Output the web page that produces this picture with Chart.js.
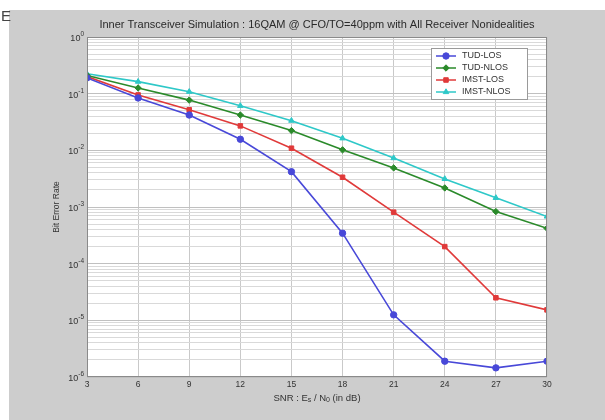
<!DOCTYPE html>
<html>
<head>
<meta charset="utf-8">
<script src="https://cdn.jsdelivr.net/npm/chart.js@4"></script>
<style>
  html, body { margin: 0; padding: 0; background: #fff; }
  #wrap { width: 605px; height: 420px; }
</style>
</head>
<body>
<div id="wrap"><canvas id="c" width="605" height="420"></canvas></div>
<script>
// SNR axis (dB)
const snr = [3, 6, 9, 12, 15, 18, 21, 24, 27, 30];
// bit error rate per channel model
const tudLos   = [0.19, 0.084, 0.042, 0.0157, 0.0042, 3.45e-4, 1.25e-5, 1.9e-6, 1.45e-6, 1.9e-6];
const tudNlos  = [0.21, 0.126, 0.077, 0.042, 0.0223, 0.0102, 0.0049, 0.00217, 8.3e-4, 4.2e-4];
const imstLos  = [0.20, 0.095, 0.052, 0.027, 0.0109, 0.00335, 8.1e-4, 2.0e-4, 2.5e-5, 1.53e-5];
const imstNlos = [0.225, 0.163, 0.108, 0.061, 0.0334, 0.0163, 0.0073, 0.00313, 0.00145, 6.8e-4];
const seriesNames = ["TUD-LOS", "TUD-NLOS", "IMST-LOS", "IMST-NLOS"];
const decades = [-6, -5, -4, -3, -2, -1, 0];

const FONT = "Arial, 'Liberation Sans', sans-serif";

const colors = ["#4848d8", "#2a8a2a", "#e03a3a", "#2ec8c8"];
const shapes = ["circle", "rectRot", "rect", "triangle"];

function pts(arr) { return snr.map((x, i) => ({ x, y: arr[i] })); }

const bgPlugin = {
  id: "figBg",
  beforeDraw(chart) {
    const { ctx, width, height, chartArea } = chart;
    ctx.save();
    ctx.fillStyle = "#ffffff";
    ctx.fillRect(0, 0, width, height);
    ctx.fillStyle = "#cdcdcd";
    ctx.fillRect(9, 10, width - 9, height - 10);
    ctx.fillStyle = "#ffffff";
    ctx.fillRect(chartArea.left, chartArea.top, chartArea.right - chartArea.left, chartArea.bottom - chartArea.top);
    ctx.fillStyle = "#444";
    ctx.font = "15px " + FONT;
    ctx.textBaseline = "alphabetic";
    ctx.fillText("E", 1, 21);
    ctx.restore();
  }
};

const textPlugin = {
  id: "figText",
  afterDraw(chart) {
    const { ctx, chartArea, scales } = chart;
    const cx = (chartArea.left + chartArea.right) / 2;
    ctx.save();
    // frame
    ctx.strokeStyle = "#8a8a8a";
    ctx.lineWidth = 1;
    ctx.strokeRect(chartArea.left + 0.5, chartArea.top + 0.5, chartArea.right - chartArea.left - 1, chartArea.bottom - chartArea.top - 1);
    // title
    ctx.fillStyle = "#2a2a2a";
    ctx.font = "11px " + FONT;
    ctx.textAlign = "center";
    ctx.textBaseline = "middle";
    ctx.fillText("Inner Transceiver Simulation : 16QAM @ CFO/TO=40ppm with All Receiver Nonidealities", cx, chartArea.top - 12);
    // y tick labels 10^k
    ctx.textBaseline = "alphabetic";
    decades.forEach(k => {
      const y = scales.y.getPixelForValue(Math.pow(10, k));
      ctx.font = "6.5px " + FONT;
      ctx.textAlign = "left";
      const e = String(k);
      const ew = ctx.measureText(e).width;
      ctx.fillStyle = "#333";
      ctx.fillText(e, chartArea.left - 3 - ew, y - 1);
      ctx.font = "9px " + FONT;
      ctx.textAlign = "right";
      ctx.fillText("10", chartArea.left - 3 - ew, y + 4);
    });
    // x label with subscripts
    const parts = [["SNR : E", 9.5, 0], ["s", 7, 2], [" / N", 9.5, 0], ["0", 7, 2], [" (in dB)", 9.5, 0]];
    let total = 0;
    parts.forEach(p => { ctx.font = p[1] + "px " + FONT; total += ctx.measureText(p[0]).width; });
    let x = cx - total / 2;
    ctx.textAlign = "left";
    ctx.textBaseline = "middle";
    parts.forEach(p => {
      ctx.font = p[1] + "px " + FONT;
      ctx.fillText(p[0], x, chartArea.bottom + 21 + p[2]);
      x += ctx.measureText(p[0]).width;
    });
    // y label
    ctx.translate(chartArea.left - 30, (chartArea.top + chartArea.bottom) / 2);
    ctx.rotate(-Math.PI / 2);
    ctx.textAlign = "center";
    ctx.font = "8.5px " + FONT;
    ctx.fillText("Bit Error Rate", 0, 0);
    ctx.restore();

    // legend
    ctx.save();
    const lx = chartArea.right - 116, ly = chartArea.top + 11;
    const lw = 96, lh = 51;
    ctx.fillStyle = "#ffffff";
    ctx.fillRect(lx, ly, lw, lh);
    ctx.strokeStyle = "#9a9a9a";
    ctx.strokeRect(lx + 0.5, ly + 0.5, lw, lh);
    chart.data.datasets.forEach((ds, i) => {
      const y = ly + 8 + i * 12;
      ctx.strokeStyle = ds.borderColor;
      ctx.fillStyle = ds.borderColor;
      ctx.lineWidth = 1.5;
      ctx.beginPath();
      ctx.moveTo(lx + 5, y);
      ctx.lineTo(lx + 25, y);
      ctx.stroke();
      ctx.lineWidth = 1;
      Chart.helpers.drawPoint(ctx, { pointStyle: ds.pointStyle, radius: 3.2, borderWidth: 1 }, lx + 15, y);
      ctx.fillStyle = "#333";
      ctx.font = "9px " + FONT;
      ctx.textAlign = "left";
      ctx.textBaseline = "middle";
      ctx.fillText(ds.label, lx + 31, y);
    });
    ctx.restore();
  }
};

const datasets = [tudLos, tudNlos, imstLos, imstNlos].map((arr, i) => ({
  label: seriesNames[i],
  data: pts(arr),
  borderColor: colors[i],
  backgroundColor: colors[i],
  borderWidth: 1.6,
  pointStyle: shapes[i],
  pointRadius: 3.2,
  pointBorderWidth: 1,
  tension: 0,
  fill: false
}));

new Chart(document.getElementById("c"), {
  type: "line",
  data: { datasets },
  options: {
    responsive: false,
    animation: false,
    layout: { padding: { top: 37, right: 58, left: 0, bottom: 0 } },
    scales: {
      x: {
        type: "linear",
        min: 3, max: 30,
        afterFit(s) { s.height = 43; },
        ticks: { stepSize: 3, color: "#333", font: { family: FONT, size: 8.5 }, padding: 3, autoSkip: false },
        grid: { color: "#c9c9c9", lineWidth: 1, drawTicks: false },
        border: { display: false }
      },
      y: {
        type: "logarithmic",
        min: 1e-6, max: 1,
        afterFit(s) { s.width = 87; },
        afterBuildTicks(s) {
          const t = [];
          decades.forEach(k => {
            for (let m = 1; m <= 9; m++) {
              const v = m * Math.pow(10, k);
              if (v <= 1.0000001) t.push({ value: v, major: m === 1 });
            }
          });
          s.ticks = t;
        },
        ticks: { autoSkip: false, display: true, callback: () => "" },
        grid: {
          drawTicks: false,
          color: c => (c.tick && c.tick.major) ? "#c0c0c0" : "#d9d9d9",
          lineWidth: 1
        },
        border: { display: false }
      }
    },
    plugins: { legend: { display: false }, tooltip: { enabled: false } }
  },
  plugins: [bgPlugin, textPlugin]
});
</script>
</body>
</html>
